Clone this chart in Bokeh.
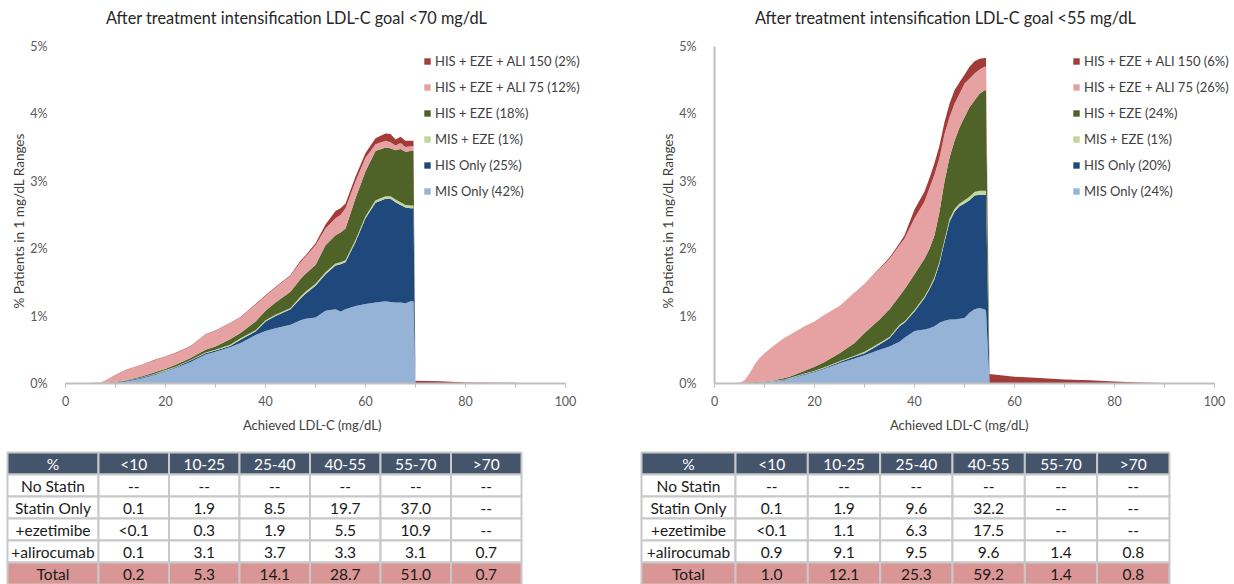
from bokeh.plotting import figure
from bokeh.models import (Range1d, ColumnDataSource, Legend, LegendItem, Label,
                          SingleIntervalTicker, PrintfTickFormatter)
from bokeh.layouts import row, column
from bokeh.embed import file_html
from bokeh.resources import INLINE

FONT = "Lato"

# ---------------- data: left chart (goal <70 mg/dL) ----------------
left_title = "After treatment intensification LDL-C goal <70 mg/dL"
left_x = [0, 4, 6, 7, 8, 10, 12, 15, 18, 20, 22, 25, 28, 30, 33, 35, 38, 40, 42, 45,
          47, 48, 50, 52, 54, 55, 56, 58, 60, 62, 64, 65, 66, 67, 68, 69, 69.6, 70, 75, 80,
          90, 92]
left_mis = [0, 0, 0.005, 0.005, 0.005, 0.01, 0.03, 0.07, 0.13, 0.18, 0.23, 0.32, 0.43, 0.47, 0.54,
            0.6, 0.72, 0.78, 0.82, 0.87, 0.94, 0.96, 0.98, 1.08, 1.10, 1.07, 1.10, 1.15, 1.18, 1.20,
            1.22, 1.21, 1.20, 1.20, 1.19, 1.22, 1.22, 0, 0, 0, 0, 0]
left_his = [0, 0, 0, 0, 0, 0.005, 0.01, 0.01, 0.01, 0.01, 0.01, 0.02, 0.02, 0.02, 0.02,
            0.05, 0.05, 0.14, 0.18, 0.23, 0.32, 0.37, 0.47, 0.54, 0.65, 0.70, 0.70, 0.95, 1.27, 1.48,
            1.52, 1.53, 1.49, 1.45, 1.42, 1.38, 1.38, 0, 0, 0, 0, 0]
left_mis_eze = [0, 0, 0, 0, 0.003, 0.005, 0.005, 0.005, 0.01, 0.01, 0.01, 0.01, 0.01, 0.01, 0.02,
                0.02, 0.02, 0.02, 0.02, 0.02, 0.03, 0.03, 0.03, 0.03, 0.03, 0.03, 0.03, 0.03, 0.03, 0.04,
                0.04, 0.04, 0.04, 0.04, 0.04, 0.04, 0.04, 0, 0, 0, 0, 0]
left_his_eze = [0, 0.005, 0.005, 0.005, 0.004, 0.005, 0.005, 0.015, 0.02, 0.02, 0.03, 0.03, 0.04, 0.05, 0.08,
                0.08, 0.13, 0.14, 0.18, 0.24, 0.26, 0.27, 0.28, 0.40, 0.42, 0.44, 0.47, 0.62, 0.67, 0.73,
                0.72, 0.71, 0.73, 0.79, 0.79, 0.81, 0.81, 0, 0, 0, 0, 0]
left_ali75 = [0, 0, 0, 0.005, 0.038, 0.095, 0.15, 0.17, 0.18, 0.18, 0.17, 0.17, 0.23, 0.23, 0.24,
              0.23, 0.25, 0.22, 0.22, 0.24, 0.25, 0.25, 0.29, 0.25, 0.25, 0.26, 0.30, 0.25, 0.20, 0.10,
              0.10, 0.09, 0.07, 0.09, 0.07, 0.07, 0.07, 0, 0, 0, 0, 0]
left_ali150 = [0, 0, 0, 0, 0, 0.005, 0.005, 0.005, 0.005, 0.005, 0.005, 0.005, 0.005, 0.005, 0.005,
               0.005, 0.01, 0.01, 0.01, 0.01, 0.02, 0.02, 0.03, 0.06, 0.11, 0.10, 0.07, 0.07, 0.07, 0.09,
               0.11, 0.12, 0.09, 0.09, 0.09, 0.08, 0.08, 0.04, 0.035, 0.015, 0.01, 0]
left_labels = ["MIS Only (42%)", "HIS Only (25%)", "MIS + EZE (1%)", "HIS + EZE (18%)",
               "HIS + EZE + ALI 75 (12%)", "HIS + EZE + ALI 150 (2%)"]

# ---------------- data: right chart (goal <55 mg/dL) ----------------
right_title = "After treatment intensification LDL-C goal <55 mg/dL"
right_x = [0, 4, 5, 6, 7, 8, 9, 10, 12, 14, 15, 18, 20, 22, 25, 28, 30, 33, 35, 37,
           38, 40, 42, 43, 44, 45, 46, 47, 48, 49, 50, 51, 52, 53, 54, 54.3, 55, 60, 65, 70,
           75, 80, 85, 90, 92]
right_mis = [0, 0, 0.005, 0.005, 0.005, 0.01, 0.01, 0.02, 0.03, 0.05, 0.07, 0.13, 0.17, 0.22, 0.30,
             0.37, 0.42, 0.50, 0.55, 0.62, 0.68, 0.78, 0.80, 0.82, 0.85, 0.90, 0.93, 0.95, 0.95, 0.96,
             0.97, 1.05, 1.10, 1.12, 1.10, 1.08, 0, 0, 0, 0, 0, 0, 0, 0, 0]
right_his = [0, 0, 0, 0, 0, 0, 0.002, 0.002, 0.005, 0.005, 0.005, 0.01, 0.01, 0.01, 0.02,
             0.03, 0.03, 0.08, 0.12, 0.23, 0.22, 0.29, 0.47, 0.58, 0.70, 0.88, 1.17, 1.45, 1.60, 1.67,
             1.70, 1.67, 1.69, 1.68, 1.70, 1.72, 0, 0, 0, 0, 0, 0, 0, 0, 0]
right_mis_eze = [0, 0, 0, 0, 0.002, 0.002, 0.003, 0.003, 0.005, 0.005, 0.005, 0.01, 0.01, 0.01, 0.01,
                 0.01, 0.02, 0.02, 0.02, 0.02, 0.02, 0.02, 0.02, 0.02, 0.03, 0.03, 0.03, 0.04, 0.04, 0.04,
                 0.05, 0.05, 0.05, 0.06, 0.06, 0.06, 0, 0, 0, 0, 0, 0, 0, 0, 0]
right_his_eze = [0, 0.005, 0.005, 0.005, 0.008, 0.008, 0.01, 0.005, 0.01, 0.02, 0.02, 0.04, 0.06, 0.08, 0.12,
                 0.19, 0.28, 0.35, 0.41, 0.43, 0.48, 0.53, 0.56, 0.58, 0.62, 0.74, 0.87, 0.91, 1.01, 1.13,
                 1.23, 1.33, 1.36, 1.44, 1.49, 1.49, 0, 0, 0, 0, 0, 0, 0, 0, 0]
right_ali75 = [0, 0, 0, 0.04, 0.135, 0.26, 0.355, 0.42, 0.52, 0.60, 0.62, 0.66, 0.67, 0.70, 0.70,
               0.75, 0.73, 0.75, 0.75, 0.75, 0.75, 0.83, 0.85, 0.90, 0.90, 0.80, 0.70, 0.60, 0.55, 0.50,
               0.50, 0.42, 0.40, 0.36, 0.35, 0.35, 0, 0, 0, 0, 0, 0, 0, 0, 0]
right_ali150 = [0, 0, 0, 0, 0, 0, 0, 0, 0, 0, 0, 0, 0, 0, 0,
                0, 0, 0.01, 0.02, 0.03, 0.05, 0.13, 0.15, 0.15, 0.17, 0.18, 0.18, 0.20, 0.20, 0.17,
                0.13, 0.18, 0.18, 0.16, 0.13, 0.13, 0.14, 0.10, 0.08, 0.06, 0.05, 0.03, 0.015, 0.008, 0]
right_labels = ["MIS Only (24%)", "HIS Only (20%)", "MIS + EZE (1%)", "HIS + EZE (24%)",
                "HIS + EZE + ALI 75 (26%)", "HIS + EZE + ALI 150 (6%)"]

x_title = "Achieved LDL-C (mg/dL)"
y_title = "% Patients in 1 mg/dL Ranges"

# ---------------- data: tables ----------------
table_header = ["%", "<10", "10-25", "25-40", "40-55", "55-70", ">70"]
table_rows = ["No Statin", "Statin Only", "+ezetimibe", "+alirocumab", "Total"]
left_table = [
    ["--", "--", "--", "--", "--", "--"],
    ["0.1", "1.9", "8.5", "19.7", "37.0", "--"],
    ["<0.1", "0.3", "1.9", "5.5", "10.9", "--"],
    ["0.1", "3.1", "3.7", "3.3", "3.1", "0.7"],
    ["0.2", "5.3", "14.1", "28.7", "51.0", "0.7"],
]
right_table = [
    ["--", "--", "--", "--", "--", "--"],
    ["0.1", "1.9", "9.6", "32.2", "--", "--"],
    ["<0.1", "1.1", "6.3", "17.5", "--", "--"],
    ["0.9", "9.1", "9.5", "9.6", "1.4", "0.8"],
    ["1.0", "12.1", "25.3", "59.2", "1.4", "0.8"],
]

COLORS = ["#95b3d7", "#1f497d", "#c3d69b", "#4f6228", "#e6a2a2", "#a33b39"]
AXIS_GREY = "#bfbfbf"
TICK_TEXT = "#595959"
NBSP = "\u00a0"

CHART_H = 450
TABLE_H = 134
PX_PER_X = 5.0          # pixels per mg/dL
PX_PER_PCT = 67.4       # pixels per 1 %
BORDER_TOP = 6
BORDER_BOTTOM = 67
PLOT_TOP_PAD = 40       # pixels between frame top and the 5% line
TITLE_ABOVE = 29        # pixels between the 5% line and the title centre


def make_chart(title, xs, series, labels, width, border_left, border_right, show_yline):
    frame_w = width - border_left - border_right
    x_end = frame_w / PX_PER_X
    y_end = 5 + PLOT_TOP_PAD / PX_PER_PCT
    p = figure(width=width, height=CHART_H, x_range=Range1d(0, x_end),
               y_range=Range1d(0, y_end), title=None,
               output_backend="svg", toolbar_location=None,
               min_border_left=border_left, min_border_right=border_right,
               min_border_top=BORDER_TOP, min_border_bottom=BORDER_BOTTOM)
    p.outline_line_color = None
    p.grid.visible = False
    p.background_fill_color = "white"
    p.border_fill_color = "white"

    names = ["mis", "his", "mis_eze", "his_eze", "ali75", "ali150"]
    data = {"x": xs}
    for n, s in zip(names, series):
        data[n] = s
    src = ColumnDataSource(data)
    rs = p.varea_stack(stackers=names, x="x", source=src, color=COLORS)

    items = [LegendItem(label=l, renderers=[r]) for l, r in zip(labels, rs)][::-1]
    leg = Legend(items=items, location=(358, 182), glyph_width=8, glyph_height=8,
                 label_standoff=4, label_height=20, spacing=6,
                 padding=0, margin=0,
                 border_line_color=None, background_fill_alpha=0,
                 label_text_font=FONT, label_text_font_size="13px",
                 label_text_color="#404040")
    p.add_layout(leg)

    # chart title, centred above the plot area
    p.add_layout(Label(x=46.2, y=5 + TITLE_ABOVE / PX_PER_PCT, text=title,
                       text_align="center", text_baseline="middle",
                       text_font=FONT, text_font_size="16.3px", text_color="#262626"))

    # x axis
    xa = p.xaxis[0]
    xa.bounds = (0, 100)
    xa.ticker = SingleIntervalTicker(interval=20, num_minor_ticks=2)
    xa.axis_line_color = AXIS_GREY
    xa.axis_line_width = 2
    xa.major_tick_line_color = AXIS_GREY
    xa.minor_tick_line_color = AXIS_GREY
    xa.major_tick_in = 0
    xa.major_tick_out = 4
    xa.minor_tick_in = 0
    xa.minor_tick_out = 4
    xa.major_label_standoff = 8
    xa.major_label_text_font = FONT
    xa.major_label_text_font_size = "12.5px"
    xa.major_label_text_color = TICK_TEXT
    # trailing no-break spaces keep the title centred under the 0-100 axis
    xa.axis_label = x_title + NBSP * 8
    xa.axis_label_text_font = FONT
    xa.axis_label_text_font_size = "13px"
    xa.axis_label_text_font_style = "normal"
    xa.axis_label_text_color = "#404040"
    xa.axis_label_standoff = 8

    # y axis
    ya = p.yaxis[0]
    ya.bounds = (0, 5)
    ya.ticker = SingleIntervalTicker(interval=1, num_minor_ticks=0)
    ya.formatter = PrintfTickFormatter(format="%d%%")
    ya.major_tick_line_color = None
    ya.minor_tick_line_color = None
    ya.major_label_standoff = 12
    ya.major_label_text_font = FONT
    ya.major_label_text_font_size = "12.5px"
    ya.major_label_text_color = TICK_TEXT
    # trailing no-break spaces keep the title centred on the 0-5 % axis
    ya.axis_label = y_title + NBSP * 15
    ya.axis_label_text_font = FONT
    ya.axis_label_text_font_size = "13.5px"
    ya.axis_label_text_font_style = "normal"
    ya.axis_label_text_color = "#404040"
    ya.axis_label_standoff = 0
    if show_yline:
        ya.axis_line_color = AXIS_GREY
        ya.axis_line_width = 2
    else:
        ya.axis_line_color = None
    return p


def add_table(t, x0, first_w, col_w, top, rh, header, row_labels, rows):
    lefts, rights, tops, bottoms, fills = [], [], [], [], []
    tx, ty, txt, tcol = [], [], [], []
    for r in range(6):
        for c in range(7):
            left = x0 if c == 0 else x0 + first_w + (c - 1) * col_w
            right = left + (first_w if c == 0 else col_w)
            lefts.append(left)
            rights.append(right)
            tops.append(top + r * rh)
            bottoms.append(top + (r + 1) * rh)
            if r == 0:
                fills.append("#44546a")
                label = header[c]
                tcol.append("white")
            else:
                fills.append("#d99694" if r == 5 else "white")
                label = row_labels[r - 1] if c == 0 else rows[r - 1][c - 1]
                tcol.append("#1a1a1a")
            tx.append((left + right) / 2)
            ty.append(top + (r + 0.5) * rh + 0.5)
            txt.append(label)
    t.quad(left=lefts, right=rights, top=tops, bottom=bottoms, fill_color=fills,
           line_color="#c8c8c8", line_width=2)
    src = ColumnDataSource(dict(x=tx, y=ty, text=txt, color=tcol))
    t.text(x="x", y="y", text="text", text_color="color", source=src,
           text_align="center", text_baseline="middle",
           text_font={"value": FONT}, text_font_size={"value": "15.5px"})


c1 = make_chart(left_title, left_x,
                [left_mis, left_his, left_mis_eze, left_his_eze, left_ali75, left_ali150],
                left_labels, 630, 65, 45, False)
c2 = make_chart(right_title, right_x,
                [right_mis, right_his, right_mis_eze, right_his_eze, right_ali75, right_ali150],
                right_labels, 604, 84, 4, True)

tables = figure(width=1234, height=TABLE_H, x_range=Range1d(0, 1234),
                y_range=Range1d(TABLE_H, 0), output_backend="svg", title=None,
                toolbar_location=None, min_border=0,
                x_axis_location=None, y_axis_location=None)
tables.outline_line_color = None
tables.grid.visible = False
add_table(tables, 7, 91, 70.5, 2, 22, table_header, table_rows, left_table)
add_table(tables, 641, 94, 72.33, 2, 22, table_header, table_rows, right_table)

layout = column(row(c1, c2), tables)
open("out.html", "w").write(file_html(layout, INLINE))
